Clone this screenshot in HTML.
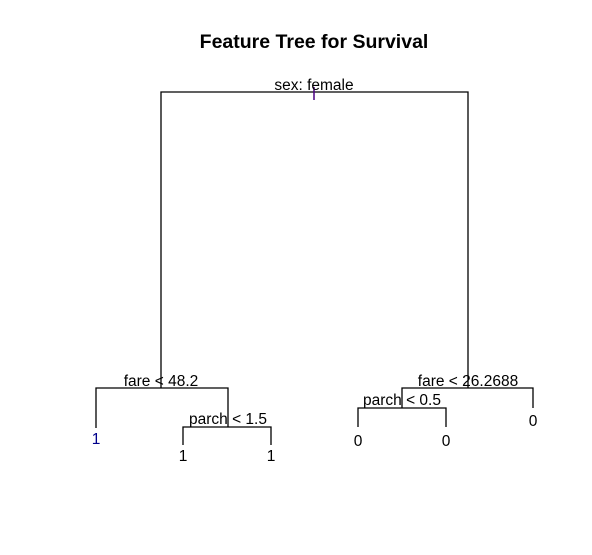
<!DOCTYPE html>
<html><head><meta charset="utf-8"><style>
html,body{margin:0;padding:0;background:#fff;}
svg{display:block;font-family:"Liberation Sans",Arial,sans-serif;}
</style></head><body>
<svg width="592" height="555" viewBox="0 0 592 555">
<rect width="592" height="555" fill="#fff"/>
<text x="314" y="48" text-anchor="middle" font-size="19.5" font-weight="bold">Feature Tree for Survival</text>
<g stroke="#000" stroke-width="1.3" fill="none">
<path d="M161,388 V92 H468 V388"/>
<path d="M96,428 V388 H228 V427"/>
<path d="M183,445 V427 H271 V445"/>
<path d="M402,408 V388 H533 V408"/>
<path d="M358,427 V408 H446 V427"/>
</g>
<line x1="314" y1="87" x2="314" y2="100" stroke="#4b0082" stroke-width="1.5"/>
<g font-size="15.5" text-anchor="middle" fill="#000">
<text x="314" y="90">sex: female</text>
<text x="161" y="386">fare &lt; 48.2</text>
<text x="228" y="424">parch &lt; 1.5</text>
<text x="468" y="386">fare &lt; 26.2688</text>
<text x="402" y="405">parch &lt; 0.5</text>
<text x="96" y="444" fill="#00008b">1</text>
<text x="183" y="461">1</text>
<text x="271" y="461">1</text>
<text x="358" y="446">0</text>
<text x="446" y="446">0</text>
<text x="533" y="426">0</text>
</g>
</svg>
</body></html>
